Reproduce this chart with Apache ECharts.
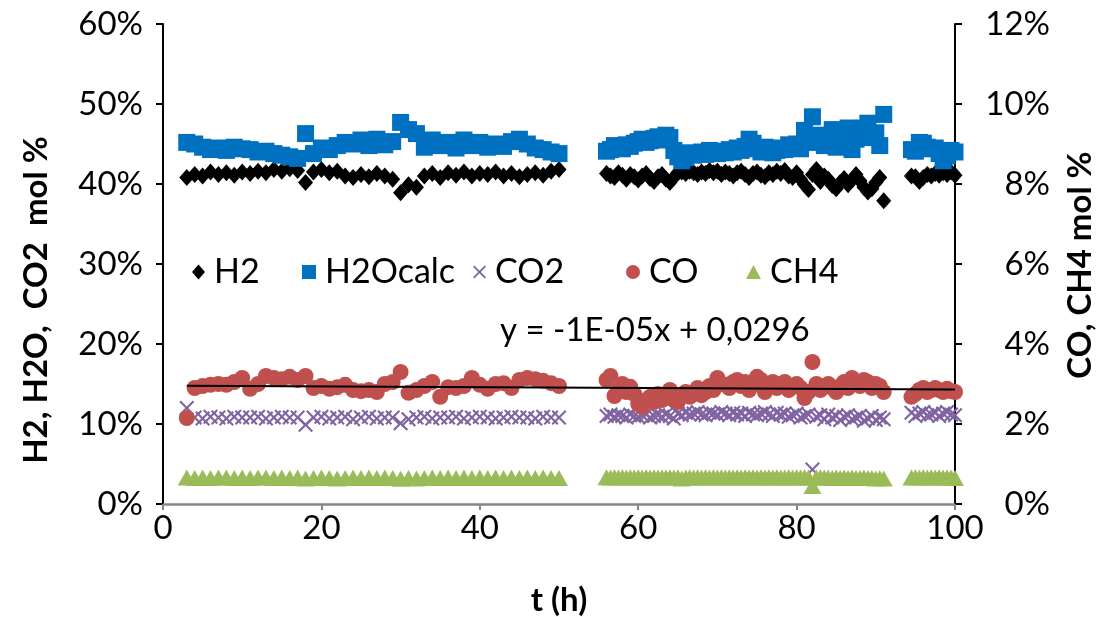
<!DOCTYPE html>
<html><head><meta charset="utf-8">
<script src="https://cdn.jsdelivr.net/npm/echarts@6/dist/echarts.min.js"></script>
<style>html,body{margin:0;padding:0;background:#fff}#c{width:1106px;height:617px}</style>
</head><body><div id="c"></div>
<script>
// sample times (h)
var times = [3,4,5,6,7,8,9,10,11,12,13,14,15,16,17,18,19,20,21,22,23,24,25,26,27,28,29,30,31,32,33,34,35,36,37,38,39,40,41,42,43,44,45,46,47,48,49,50,
56,56.5,57,57.5,58,58.5,59,59.5,60,60.5,61,61.5,62,62.5,63,63.5,64,64.5,65,65.5,66,66.5,67,67.5,68,68.5,69,69.5,70,70.5,71,71.5,72,72.5,73,73.5,74,74.5,75,75.5,76,76.5,77,77.5,78,78.5,79,79.5,80,80.5,81,81.5,82,82.5,83,83.5,84,84.5,85,85.5,86,86.5,87,87.5,88,88.5,89,89.5,90,90.5,91,
94.5,95,95.5,96,96.5,97,97.5,98,98.5,99,99.5,100];
// left axis, mol %
var h2 = [40.8,41.2,41.0,41.5,41.2,41.4,41.1,41.5,41.3,41.6,41.4,41.8,41.6,41.9,41.7,40.2,41.5,41.8,41.4,41.6,41.0,40.8,41.2,40.9,41.3,41.0,40.6,38.9,39.9,39.6,41.0,41.3,40.8,41.4,41.1,41.5,41.0,41.3,41.2,41.5,41.0,41.3,40.9,41.2,41.4,41.1,41.6,41.8,
41.3,41.0,40.8,41.4,41.1,40.6,41.2,40.9,40.5,41.0,41.3,40.7,40.3,40.9,41.2,40.6,40.2,40.8,41.4,41.5,41.3,41.6,41.4,41.2,41.5,41.3,41.7,41.4,41.6,41.2,41.5,41.3,41.0,41.4,41.6,41.2,40.8,41.3,41.5,41.1,40.9,41.4,41.2,41.6,41.3,41.7,41.0,40.8,41.4,40.6,39.9,39.3,41.2,41.8,40.3,41.0,40.6,39.8,39.4,40.2,40.7,39.9,40.5,41.2,40.4,39.6,39.0,39.4,40.2,40.8,37.9,
41.0,40.9,40.3,40.8,41.2,41.0,41.3,41.1,41.4,41.2,41.5,41.1];
var h2o = [45.2,45.0,44.6,44.3,44.5,44.2,44.6,44.4,44.3,44.0,44.1,43.8,43.6,43.4,43.2,46.3,43.8,44.5,44.3,44.8,45.2,45.0,45.5,44.8,45.6,44.9,45.3,47.7,46.8,46.3,44.6,45.5,44.8,45.2,44.5,45.5,44.8,45.2,44.6,45.0,44.7,45.3,45.6,45.0,44.5,44.3,44.0,43.8,
44.1,44.3,44.8,44.6,44.4,44.9,44.7,45.1,45.3,45.6,45.2,45.4,45.7,45.9,45.5,46.1,45.8,44.2,43.4,42.9,43.3,43.9,43.6,43.8,44.0,43.7,44.2,44.0,43.8,44.1,43.9,44.3,44.0,44.5,44.2,44.7,45.6,45.1,44.4,44.0,44.6,44.3,43.9,44.2,44.5,44.3,44.9,44.6,45.0,44.4,46.7,45.2,48.4,46.0,46.1,44.8,45.5,46.8,44.6,45.3,46.2,47.0,44.3,45.6,46.5,47.0,47.6,45.8,46.4,44.8,48.7,
44.3,44.1,45.2,45.1,44.6,44.4,44.5,43.8,42.9,43.5,44.2,44.0];
var co2 = [12.0,10.8,10.7,10.9,10.8,10.7,10.9,10.8,10.8,10.9,10.7,10.8,10.9,10.8,10.8,9.9,10.8,10.9,10.7,10.8,10.9,10.6,10.8,10.9,10.7,10.8,10.8,10.1,10.6,10.8,10.9,10.7,10.8,10.8,10.9,10.7,10.8,10.9,10.8,10.7,10.8,10.9,10.8,10.8,10.7,10.9,10.8,10.8,
11.0,11.2,10.9,11.1,11.0,10.8,11.2,11.0,10.9,11.1,11.2,10.8,11.0,11.1,10.9,11.2,11.0,10.7,11.3,11.1,11.4,11.2,11.3,11.5,11.2,11.1,11.4,11.3,11.2,11.5,11.3,11.1,11.4,11.2,11.3,11.0,11.4,11.2,11.1,11.3,11.5,11.2,11.0,11.4,11.2,11.3,10.9,11.1,11.3,10.8,11.0,11.2,4.3,10.9,11.1,10.6,11.2,10.8,11.0,10.5,10.9,11.1,10.6,10.8,11.0,10.4,10.7,11.0,10.5,10.8,10.6,
11.4,11.0,11.3,11.5,11.1,11.2,11.4,11.0,11.3,11.5,11.2,11.1];
// right axis, mol %
var co = [2.15,2.90,2.95,2.98,3.00,2.98,3.05,3.15,2.88,3.00,3.20,3.15,3.12,3.18,3.10,3.20,2.90,2.95,2.88,2.92,2.98,2.85,2.82,2.85,2.80,3.00,3.05,3.30,2.78,2.85,2.95,3.05,2.68,2.92,2.90,2.95,3.15,2.98,2.88,3.00,3.02,2.90,3.10,3.15,3.12,3.08,3.02,2.95,
3.10,3.20,2.70,2.85,3.00,2.80,2.93,2.75,2.50,2.43,2.60,2.68,2.55,2.75,2.60,2.72,2.85,2.60,2.55,2.70,2.80,2.68,2.75,2.90,2.72,2.80,2.95,2.85,3.15,3.00,2.98,2.90,3.05,3.10,2.95,3.05,2.85,3.00,3.18,3.10,2.80,2.95,3.05,2.90,2.98,3.05,2.85,2.95,3.00,2.90,2.65,2.80,3.55,3.00,2.85,2.95,3.00,2.90,2.80,2.95,3.05,2.90,3.15,3.05,2.95,3.10,3.05,2.90,3.00,2.95,2.80,
2.68,2.75,2.85,2.90,2.80,2.85,2.90,2.85,2.80,2.88,2.82,2.80];
var ch4 = [0.66,0.65,0.66,0.65,0.66,0.66,0.65,0.66,0.65,0.66,0.66,0.65,0.66,0.65,0.66,0.64,0.65,0.66,0.65,0.64,0.65,0.66,0.65,0.66,0.65,0.66,0.65,0.63,0.65,0.64,0.65,0.66,0.65,0.66,0.65,0.66,0.65,0.66,0.65,0.66,0.65,0.66,0.65,0.66,0.65,0.66,0.65,0.65,
0.67,0.66,0.67,0.66,0.67,0.66,0.67,0.66,0.67,0.66,0.67,0.66,0.67,0.66,0.67,0.66,0.67,0.66,0.67,0.64,0.66,0.67,0.66,0.67,0.66,0.67,0.66,0.67,0.66,0.67,0.66,0.67,0.66,0.67,0.66,0.67,0.66,0.67,0.66,0.67,0.66,0.67,0.66,0.67,0.66,0.66,0.67,0.66,0.67,0.66,0.67,0.66,0.45,0.66,0.67,0.66,0.66,0.65,0.66,0.65,0.66,0.65,0.66,0.65,0.65,0.66,0.65,0.65,0.64,0.65,0.64,
0.66,0.67,0.66,0.67,0.66,0.67,0.66,0.67,0.66,0.67,0.66,0.65];
var trendX = [3, 100];
var trendY = [2.957, 2.86];
var names = ['H2','H2Ocalc','CO2','CO','CH4'];
var eqText = 'y = -1E-05x + 0,0296';
var leftTitle = 'H2, H2O,  CO2  mol %';
var rightTitle = 'CO, CH4 mol %';
var xTitle = 't (h)';

function pairs(v){ return times.map(function(t,i){ return [t, v[i]]; }); }
var FONT = 'Lato';
var crossPath = 'path://M0,1 L1,0 L5,4 L9,0 L10,1 L6,5 L10,9 L9,10 L5,6 L1,10 L0,9 L4,5 Z';

var chart = echarts.init(document.getElementById('c'), null, {renderer:'canvas'});
var legendPos = [187, 297, 468, 621, 741];
var legendIcon = [[13,15],[14,14],[13,13],[14,14],[15,14]];
var option = {
  animation:false,
  backgroundColor:'#fff',
  grid:{left:163, right:151, top:24, bottom:113, containLabel:false},
  legend: names.map(function(n,i){ return {
    data:[n], left:legendPos[i], top:250, itemWidth:legendIcon[i][0], itemHeight:legendIcon[i][1], itemGap:0,
    textStyle:{fontFamily:FONT, fontSize:34, color:'#000', padding:[0,0,0,4]}, selectedMode:false }; }),
  xAxis:{type:'value', min:0, max:100, interval:20,
    axisLine:{show:true, onZero:false, lineStyle:{color:'#868686', width:2.5}},
    axisTick:{show:true, length:6, lineStyle:{color:'#868686', width:2}},
    axisLabel:{fontFamily:FONT, fontSize:33, color:'#000', margin:8},
    splitLine:{show:false}},
  yAxis:[
    {type:'value', min:0, max:60, interval:10, position:'left',
     axisLine:{show:true, lineStyle:{color:'#000', width:2}},
     axisTick:{show:true, length:7, lineStyle:{color:'#000', width:2}},
     axisLabel:{fontFamily:FONT, fontSize:33, color:'#000', margin:20, formatter:'{value}%'},
     splitLine:{show:false}},
    {type:'value', min:0, max:12, interval:2, position:'right',
     axisLine:{show:true, lineStyle:{color:'#000', width:2}},
     axisTick:{show:true, length:7, lineStyle:{color:'#000', width:2}},
     axisLabel:{fontFamily:FONT, fontSize:33, color:'#000', margin:95, align:'right', formatter:'{value}%'},
     splitLine:{show:false}}
  ],
  series:[
    {name:'H2', type:'scatter', yAxisIndex:0, symbol:'diamond', symbolSize:[15,17], itemStyle:{color:'#000', opacity:1}, data:pairs(h2)},
    {name:'H2Ocalc', type:'scatter', yAxisIndex:0, symbol:'rect', symbolSize:17, itemStyle:{color:'#0070C0', opacity:1}, data:pairs(h2o)},
    {name:'CO2', type:'scatter', yAxisIndex:0, symbol:crossPath, symbolSize:15, itemStyle:{color:'#8064A2', opacity:1}, data:pairs(co2)},
    {name:'CO', type:'scatter', yAxisIndex:1, symbol:'circle', symbolSize:16, itemStyle:{color:'#C0504D', opacity:1}, data:pairs(co)},
    {name:'CH4', type:'scatter', yAxisIndex:1, symbol:'triangle', symbolSize:[18,16], itemStyle:{color:'#9BBB59', opacity:1}, data:pairs(ch4)},
    {name:'trend', type:'line', yAxisIndex:1, showSymbol:false, symbol:'none', lineStyle:{color:'#000', width:2}, z:5,
     data: trendX.map(function(x,i){ return [x, trendY[i]]; })}
  ],
  graphic:[
    {type:'text', left:500, top:314, style:{text:eqText, font:'33px Lato', fill:'#000'}},
    {type:'text', x:36, y:300, rotation:Math.PI/2, style:{text:leftTitle, font:'bold 33px Lato', fill:'#000', textAlign:'center', textVerticalAlign:'middle'}},
    {type:'text', x:1080, y:265, rotation:Math.PI/2, style:{text:rightTitle, font:'bold 33px Lato', fill:'#000', textAlign:'center', textVerticalAlign:'middle'}},
    {type:'text', x:559, y:600, style:{text:xTitle, font:'bold 33px Lato', fill:'#000', textAlign:'center', textVerticalAlign:'middle'}}
  ]
};
chart.setOption(option);
</script></body></html>
